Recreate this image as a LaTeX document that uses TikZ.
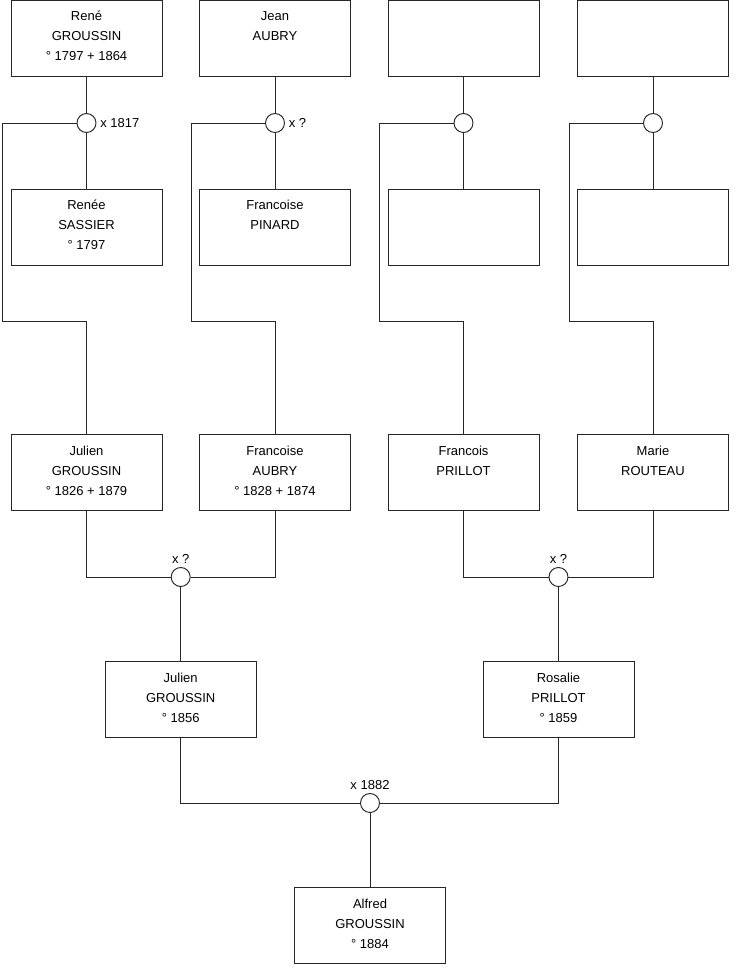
\documentclass[tikz,border=0pt]{standalone}
\usepackage{fontspec}
\setmainfont{Liberation Sans}
\usetikzlibrary{positioning}
\tikzset{
  person/.style={draw=black!85, line width=0.55pt, minimum width=3.02cm, minimum height=1.52cm,
                 align=center, inner sep=0pt, font=\fontsize{7.4}{11.3}\selectfont},
  union/.style={draw=black!85, circle, line width=0.55pt, minimum size=0.38cm, inner sep=0pt, fill=white},
  lbl/.style={font=\fontsize{7.4}{8}\selectfont, inner sep=1pt},
  link/.style={line width=0.55pt, draw=black!85},
}
\begin{document}
\begin{tikzpicture}[x=0.02cm, y=-0.02cm]
  \useasboundingbox (0,0) rectangle (740,975);

  % ---- great-grandparents ------------------------------------------
  \node[person] (rene)   at (86.5,38)  {René\\GROUSSIN\\° 1797 + 1864\\[-9pt]~};
  \node[person] (jean)   at (275,38)   {Jean\\AUBRY\\~\\[-9pt]~};
  \node[person] (gp3)    at (463.5,38) {};
  \node[person] (gp4)    at (653,38)   {};

  \node[person] (renee)  at (86.5,227) {Renée\\SASSIER\\° 1797\\[-9pt]~};
  \node[person] (pinard) at (275,227)  {Francoise\\PINARD\\~\\[-9pt]~};
  \node[person] (gm3)    at (463.5,227) {};
  \node[person] (gm4)    at (653,227)  {};

  % unions of the top couples
  \node[union] (u1) at (86.5,123) {};
  \node[union] (u2) at (275,123)  {};
  \node[union] (u3) at (463.5,123) {};
  \node[union] (u4) at (653,123)  {};
  \node[lbl, right=1pt of u1] {x 1817};
  \node[lbl, right=1pt of u2] {x ?};

  % ---- grandparents ------------------------------------------------
  \node[person] (julien)   at (86.5,472.5)  {Julien\\GROUSSIN\\° 1826 + 1879\\[-9pt]~};
  \node[person] (fraubry)  at (275,472.5)   {Francoise\\AUBRY\\° 1828 + 1874\\[-9pt]~};
  \node[person] (francois) at (463.5,472.5) {Francois\\PRILLOT\\~\\[-9pt]~};
  \node[person] (marie)    at (653,472.5)   {Marie\\ROUTEAU\\~\\[-9pt]~};

  \node[union] (u5) at (180.7,577) {};
  \node[union] (u6) at (558.5,577) {};
  \node[lbl, above=1pt of u5] {x ?};
  \node[lbl, above=1pt of u6] {x ?};

  % ---- parents -----------------------------------------------------
  \node[person] (julien2) at (180.7,699.5) {Julien\\GROUSSIN\\° 1856\\[-9pt]~};
  \node[person] (rosalie) at (558.5,699.5) {Rosalie\\PRILLOT\\° 1859\\[-9pt]~};

  \node[union] (u7) at (370,803) {};
  \node[lbl, above=1pt of u7] {x 1882};

  \node[person] (alfred) at (370,925.5) {Alfred\\GROUSSIN\\° 1884\\[-9pt]~};

  % ---- corner points -----------------------------------------------
  \coordinate (c1) at (2,123);
  \coordinate (c2) at (191,123);
  \coordinate (c3) at (379,123);
  \coordinate (c4) at (569,123);
  \coordinate (k1) at (86.5,321);
  \coordinate (k2) at (275,321);
  \coordinate (k3) at (463.5,321);
  \coordinate (k4) at (653,321);

  % ---- links -------------------------------------------------------
  \foreach \top/\bot/\u/\c/\k/\kid in {rene/renee/u1/c1/k1/julien,
      jean/pinard/u2/c2/k2/fraubry, gp3/gm3/u3/c3/k3/francois,
      gp4/gm4/u4/c4/k4/marie} {
    \draw[link] (\top) -- (\u);
    \draw[link] (\u) -- (\bot);
    \draw[link] (\u.west) -- (\c) |- (\k) -- (\kid);
  }
  \draw[link] (julien.south) |- (u5.west);
  \draw[link] (fraubry.south) |- (u5.east);
  \draw[link] (u5) -- (julien2);
  \draw[link] (francois.south) |- (u6.west);
  \draw[link] (marie.south) |- (u6.east);
  \draw[link] (u6) -- (rosalie);
  \draw[link] (julien2.south) |- (u7.west);
  \draw[link] (rosalie.south) |- (u7.east);
  \draw[link] (u7) -- (alfred);
\end{tikzpicture}
\end{document}
